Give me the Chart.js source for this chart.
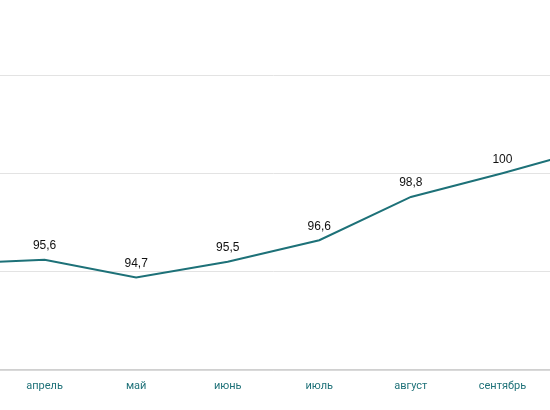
<!DOCTYPE html>
<html>
<head>
<meta charset="utf-8">
<script src="https://cdn.jsdelivr.net/npm/chart.js@4"></script>
<style>
html,body{margin:0;padding:0;background:#fff;overflow:hidden;width:550px;height:410px;}
#wrap{position:absolute;left:-47px;top:0;width:641px;height:410px;}
</style>
</head>
<body>
<div id="wrap"><canvas id="lineChart" width="641" height="410"></canvas></div>
<script>
const months = ["март","апрель","май","июнь","июль","август","сентябрь","октябрь"];
const values = [95.4,95.6,94.7,95.5,96.6,98.8,100,101.3];
const lineColor = "#1d7178";
const tickColor = "#1f7279";

const valueLabels = {
  id: "valueLabels",
  afterDatasetsDraw(chart){
    const ctx = chart.ctx;
    const meta = chart.getDatasetMeta(0);
    ctx.save();
    ctx.font = "12px 'Liberation Sans', Arial, sans-serif";
    ctx.fillStyle = "#111";
    ctx.textAlign = "center";
    ctx.textBaseline = "middle";
    meta.data.forEach((pt, i) => {
      ctx.fillText(String(values[i]).replace(".", ","), pt.x, pt.y - 14);
    });
    ctx.restore();
  }
};

new Chart(document.getElementById("lineChart"), {
  type: "line",
  data: {
    labels: months,
    datasets: [{
      data: values,
      borderColor: lineColor,
      borderWidth: 2,
      pointRadius: 0,
      fill: false,
      tension: 0
    }]
  },
  options: {
    responsive: false,
    animation: false,
    layout: { padding: { top: 75, left: 0, right: 0, bottom: 0 } },
    plugins: { legend: { display: false }, tooltip: { enabled: false } },
    scales: {
      x: {
        offset: false,
        grid: { display: false, drawTicks: false },
        border: { display: true, color: "#d0d0d0", width: 1.5 },
        ticks: {
          color: tickColor,
          padding: 10,
          maxRotation: 0,
          autoSkip: false,
          font: { size: 11, family: "Roboto, 'Liberation Sans', sans-serif" }
        },
        afterFit(scale){
          scale.height = 40;
          scale.paddingLeft = 0;
          scale.paddingRight = 0;
        }
      },
      y: {
        min: 90,
        max: 105,
        ticks: { display: false, stepSize: 5 },
        grid: { color: "#e3e3e3", drawTicks: false },
        border: { display: false },
        afterFit(scale){ scale.width = 0; }
      }
    }
  },
  plugins: [valueLabels]
});
</script>
</body>
</html>
